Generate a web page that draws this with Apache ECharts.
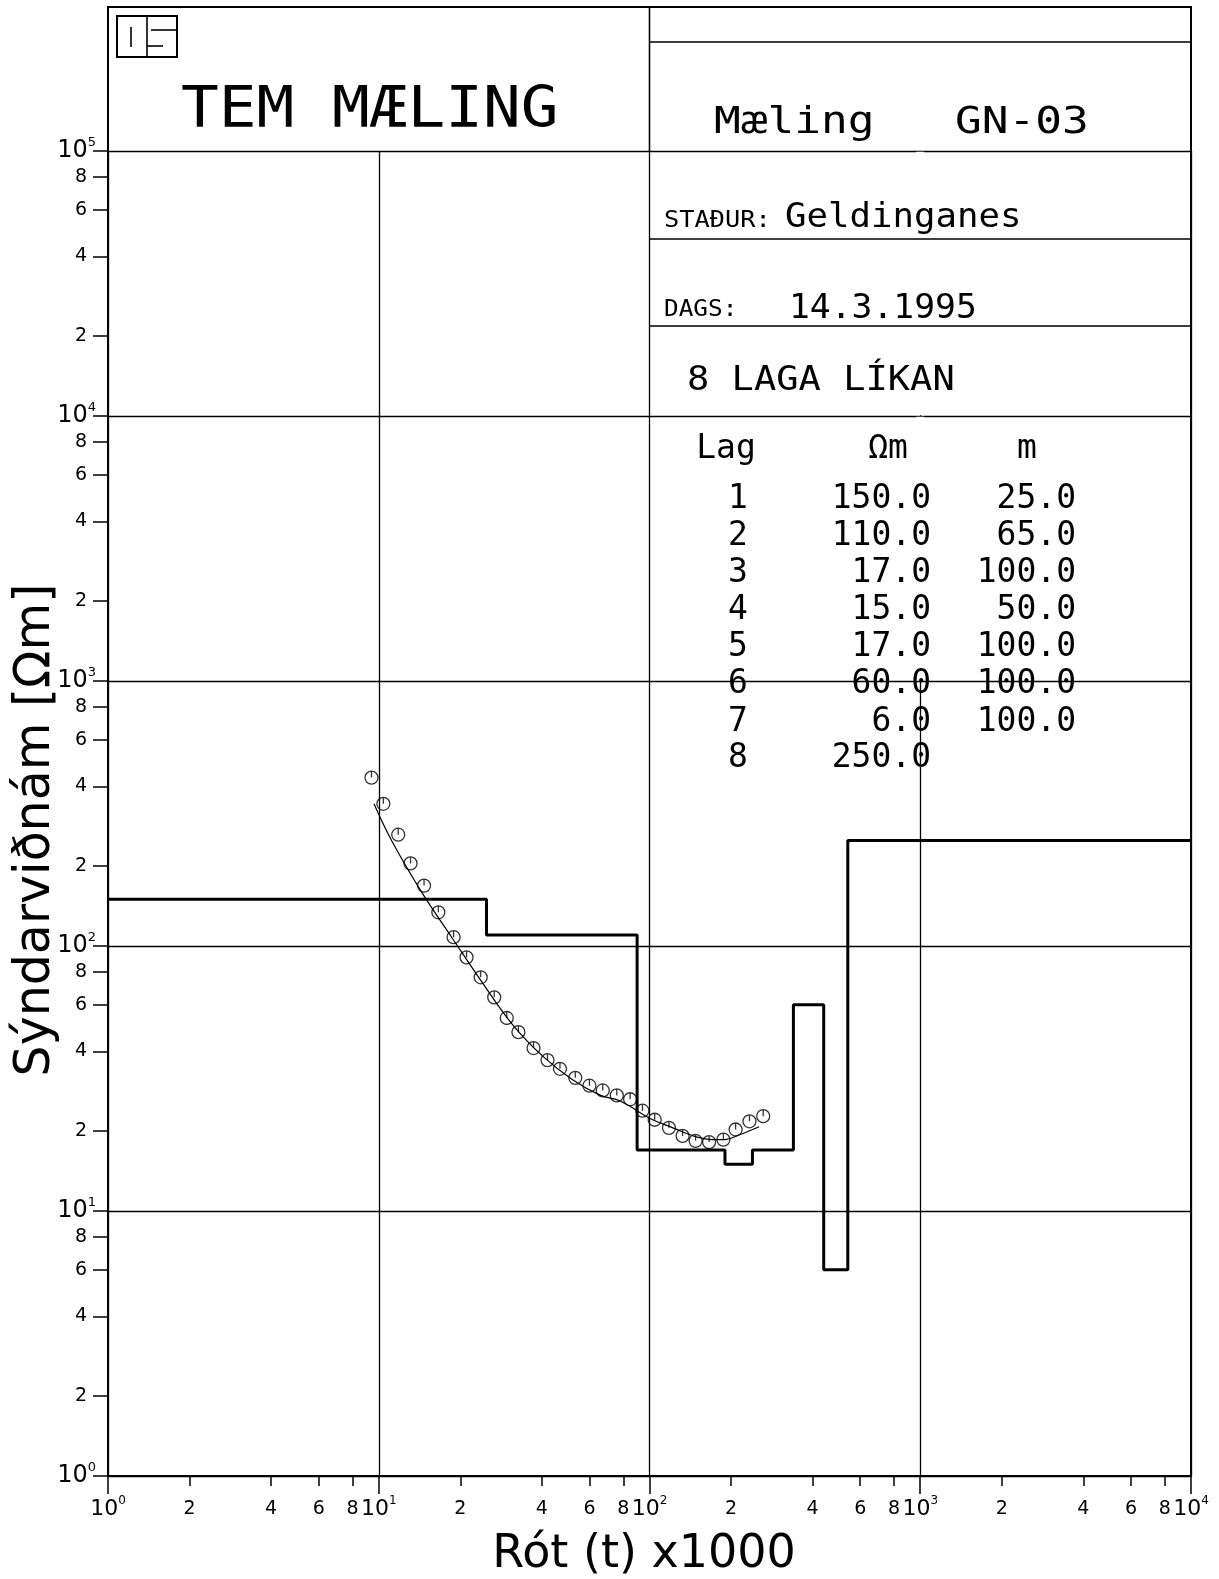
<!DOCTYPE html>
<html>
<head>
<meta charset="utf-8">
<title>TEM mæling GN-03</title>
<script src="https://cdn.jsdelivr.net/npm/echarts@6.0.0/dist/echarts.min.js"></script>
<style>
html, body { margin: 0; padding: 0; background: #fff; }
#main { width: 1219px; height: 1579px; }
</style>
</head>
<body>
<div id="main"></div>
<script>
// líkan: lag, viðnám (Ωm), þykkt (m)
var layerNo = [1, 2, 3, 4, 5, 6, 7, 8];
var layerRho = [150, 110, 17, 15, 17, 60, 6, 250];
var layerThick = [25, 65, 100, 50, 100, 100, 100];

// mæld gildi (hringir)
var measX = [9.4, 10.4, 11.8, 13.1, 14.7, 16.6, 18.9, 21.1, 23.8, 26.7, 29.7, 32.8, 37.3, 42.0, 46.7,
             53.2, 60.0, 67.2, 75.7, 84.8, 94.2, 104.5, 118, 132.5, 148, 166, 187.5, 208, 234, 263];
var measY = [432, 344, 263, 205, 169, 134, 108, 90.6, 76.2, 64.0, 53.5, 47.3, 41.2, 37.1, 34.4,
             31.8, 29.7, 28.5, 27.3, 26.4, 23.9, 22.1, 20.6, 19.2, 18.4, 18.2, 18.6, 20.3, 21.8, 22.8];

// reiknaður ferill
var fitX = [9.6, 11.2, 14.5, 18.7, 24.2, 31.2, 40.3, 52.0, 66, 78, 100, 122, 150, 170, 190, 215, 254];
var fitY = [344, 248, 158, 107, 72.4, 50.5, 38.4, 31.3, 27.3, 26.0, 22.4, 20.6, 19.0, 18.6, 18.6, 19.4, 20.8];

// ásar (smástrik og merkingar)
var xTicks = [1, 2, 4, 6, 8, 10, 20, 40, 60, 80, 100, 200, 400, 600, 800,
              1000, 2000, 4000, 6000, 8000, 10000];
var yTicks = [1, 2, 4, 6, 8, 10, 20, 40, 60, 80, 100, 200, 400, 600, 800,
              1000, 2000, 4000, 6000, 8000, 10000, 20000, 40000, 60000, 80000, 100000];

var MONO = '"DejaVu Sans Mono", monospace';
var SANS = '"DejaVu Sans", sans-serif';

function tickLabel(v) {
    var e = Math.round(Math.log(v) / Math.LN10);
    if (Math.abs(v - Math.pow(10, e)) < 1e-6 * v) {
        return '{b|10}{s|' + e + '}';
    }
    var d = Math.floor(Math.log(v) / Math.LN10 + 1e-9);
    return '{m|' + Math.round(v / Math.pow(10, d)) + '}';
}

// þrepalína líkansins
var stepData = [[1, layerRho[0]]];
var depth = 0;
for (var i = 0; i < layerThick.length; i++) {
    depth += layerThick[i];
    stepData.push([depth, layerRho[i + 1]]);
}
stepData.push([10000, layerRho[layerRho.length - 1]]);

var measData = measX.map(function (x, i) { return [x, measY[i]]; });
var fitData = fitX.map(function (x, i) { return [x, fitY[i]]; });

function txt(text, x, y, size, opts) {
    opts = opts || {};
    return {
        type: 'text', x: x, y: y, z: 10, silent: true,
        scaleX: opts.sx || 1,
        rotation: opts.rot || 0,
        style: {
            text: text,
            font: size + 'px ' + (opts.font || MONO),
            fill: '#000',
            textAlign: opts.align || 'left',
            textVerticalAlign: 'middle'
        }
    };
}
function hline(x1, x2, y) {
    return { type: 'line', z: 5, silent: true, shape: { x1: x1, y1: y, x2: x2, y2: y },
             style: { stroke: '#000', lineWidth: 1.6 } };
}
function vline(x, y1, y2) {
    return { type: 'line', z: 5, silent: true, shape: { x1: x, y1: y1, x2: x, y2: y2 },
             style: { stroke: '#000', lineWidth: 1.6 } };
}

function headerGraphic() {
    var els = [];
    // rammi
    els.push({ type: 'rect', z: 5, silent: true, shape: { x: 108, y: 7, width: 1083, height: 1469 },
               style: { fill: 'none', stroke: '#000', lineWidth: 2 } });
    els.push(vline(649.5, 7, 151));
    els.push(hline(649.5, 1191, 42));
    els.push(hline(649.5, 1191, 239));
    els.push(hline(649.5, 1191, 326));
    // merki OS
    els.push({ type: 'rect', z: 5, silent: true, shape: { x: 117, y: 16, width: 60, height: 41 },
               style: { fill: 'none', stroke: '#000', lineWidth: 2 } });
    els.push(vline(131, 27, 47));
    els.push(vline(147, 16, 57));
    els.push(hline(151, 177, 30));
    els.push(hline(147, 163, 46));
    // textar
    els.push(txt('TEM MÆLING', 181, 112, 57, { sx: 1.1 }));
    els.push(txt('Mæling   GN-03', 714, 123, 38, { sx: 1.17 }));
    els.push(txt('STAÐUR:', 664, 221, 23, { sx: 1.1 }));
    els.push(txt('Geldinganes', 785, 218, 34, { sx: 1.05 }));
    els.push(txt('DAGS:', 664, 310, 23, { sx: 1.06 }));
    els.push(txt('14.3.1995', 789, 309, 33, { sx: 1.05 }));
    els.push(txt('8 LAGA LÍKAN', 687, 381, 34, { sx: 1.09 }));
    els.push(txt('Lag', 726, 449, 33, { align: 'center' }));
    els.push(txt('Ωm', 888, 449, 33, { align: 'center' }));
    els.push(txt('m', 1027, 449, 33, { align: 'center' }));
    var rowY = [499, 536, 573, 610, 647, 684, 722, 758];
    for (var i = 0; i < layerNo.length; i++) {
        els.push(txt(String(layerNo[i]), 738, rowY[i], 33, { align: 'center' }));
        els.push(txt(layerRho[i].toFixed(1), 931, rowY[i], 33, { align: 'right' }));
        if (i < layerThick.length) {
            els.push(txt(layerThick[i].toFixed(1), 1076, rowY[i], 33, { align: 'right' }));
        }
    }
    // ásaheiti
    els.push(txt('Rót (t) x1000', 644, 1555, 46, { align: 'center', font: SANS }));
    els.push(txt('Sýndarviðnám [Ωm]', 36, 830, 49, { align: 'center', font: SANS, rot: Math.PI / 2 }));
    return els;
}

var myChart = echarts.init(document.getElementById('main'));

// ás 0: netlínur og löng strik á tugveldum; ás 1: smástrik og merkingar
function gridAxis(min, max, pos, tickLen) {
    return {
        type: 'log', logBase: 10, min: min, max: max, position: pos,
        axisLine: { show: true, lineStyle: { color: '#000', width: 2 } },
        axisTick: { show: true, length: tickLen, lineStyle: { color: '#000', width: 1.5 } },
        axisLabel: { show: false },
        splitLine: { show: true, lineStyle: { color: '#000', width: 1.3 } },
        minorTick: { show: false },
        minorSplitLine: { show: false }
    };
}
function tickAxis(min, max, pos, ticks, tickLen, margin, rich) {
    return {
        type: 'log', logBase: 10, min: min, max: max, position: pos,
        axisLine: { show: false },
        axisTick: { show: true, customValues: ticks, length: tickLen, lineStyle: { color: '#000', width: 1.5 } },
        axisLabel: { customValues: ticks, formatter: tickLabel, margin: margin, color: '#000', rich: rich },
        splitLine: { show: false },
        minorTick: { show: false }
    };
}

var option = {
    backgroundColor: '#fff',
    animation: false,
    grid: { left: 108, top: 151, right: 28, bottom: 103 },
    xAxis: [
        gridAxis(1, 10000, 'bottom', 18),
        tickAxis(1, 10000, 'bottom', xTicks, 10, 18, {
            b: { fontSize: 22, fontFamily: SANS, color: '#000', lineHeight: 30 },
            s: { fontSize: 12, fontFamily: SANS, color: '#000', padding: [0, 0, 16, 0] },
            m: { fontSize: 19, fontFamily: SANS, color: '#000', lineHeight: 30 }
        })
    ],
    yAxis: [
        gridAxis(1, 100000, 'left', 15),
        tickAxis(1, 100000, 'left', yTicks, 15, 12, {
            b: { fontSize: 24, fontFamily: SANS, color: '#000' },
            s: { fontSize: 13, fontFamily: SANS, color: '#000', padding: [0, 0, 16, 0] },
            m: { fontSize: 19, fontFamily: SANS, color: '#000', padding: [0, 9, 0, 0] }
        })
    ],
    graphic: { elements: headerGraphic() },
    series: [
        {
            name: 'Líkan',
            type: 'line',
            step: 'end',
            symbol: 'none',
            data: stepData,
            lineStyle: { color: '#000', width: 3 },
            z: 3
        },
        {
            name: 'Reiknað',
            type: 'line',
            smooth: 0.4,
            symbol: 'none',
            data: fitData,
            lineStyle: { color: '#000', width: 1.2 },
            z: 4
        },
        {
            name: 'Mælt',
            type: 'scatter',
            symbol: 'path://M0,10 A10,10 0 1,1 20,10 A10,10 0 1,1 0,10 Z M10,0 L10,10',
            symbolSize: 13,
            data: measData,
            itemStyle: { color: 'rgba(0,0,0,0)', borderColor: '#000', borderWidth: 1.3 },
            z: 5
        }
    ]
};
myChart.setOption(option);

// fela lóðréttu 10^3 línuna bak við töfluna
var pTop = myChart.convertToPixel({ gridIndex: 0 }, [1000, 100000]);
var p4 = myChart.convertToPixel({ gridIndex: 0 }, [1000, 10000]);
var p3 = myChart.convertToPixel({ gridIndex: 0 }, [1000, 1000]);
var els = headerGraphic();
els.push({ type: 'rect', z: 2, silent: true, shape: { x: pTop[0] - 4, y: pTop[1] + 0.8, width: 8, height: p4[1] - pTop[1] - 1.6 },
           style: { fill: '#fff' } });
els.push({ type: 'rect', z: 2, silent: true, shape: { x: p4[0] - 4, y: p4[1] + 0.8, width: 8, height: p3[1] - p4[1] - 1.6 },
           style: { fill: '#fff' } });
myChart.setOption({ graphic: { elements: els } });
</script>
</body>
</html>
